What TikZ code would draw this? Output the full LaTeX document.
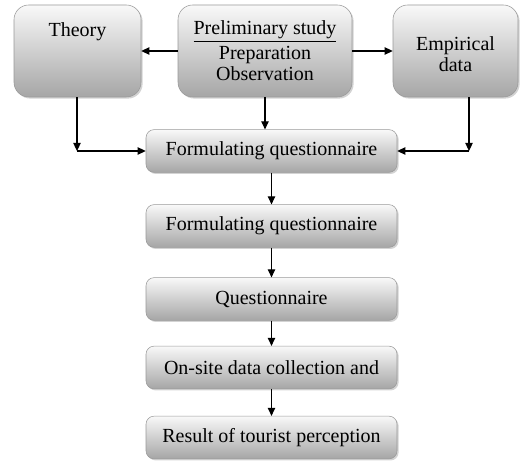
\documentclass[tikz,border=0pt]{standalone}
\usepackage{fontspec}
\setmainfont{Liberation Serif}
\usetikzlibrary{arrows.meta,shadows}

\begin{document}
\begin{tikzpicture}[x=0.75pt, y=-0.75pt, line join=round, thick,
	box/.style={draw=gray!80, thin, rounded corners=6pt, top color=gray!5, bottom color=gray!70,
		drop shadow={shadow xshift=1.2pt, shadow yshift=-1.2pt, opacity=0.35},
		align=center, inner sep=0pt, font=\fontsize{15}{15.75}\selectfont},
	topbox/.style={box, rounded corners=11pt, minimum height=69pt},
	stepbox/.style={box, minimum width=188.25pt, minimum height=32pt},
	arr/.style={-{Triangle[length=6pt,width=5.5pt]}, line width=0.8pt}]
	\useasboundingbox (0,0) rectangle (520,463);

	% ====== HÀNG TRÊN: BA KHỐI ======
	\node[topbox, minimum width=95.25pt] (theory) at (77.5,51) {Theory\\~\\~};
	\node[topbox, minimum width=130.5pt] (prelim) at (265,51) {\underline{Preliminary study}\\[3pt]Preparation\\Observation};
	\node[topbox, minimum width=93.75pt] (empir) at (455.5,51) {~\\Empirical\\data};

	% ====== CỘT GIỮA: CÁC BƯỚC ======
	\node[stepbox] (formA) at (271.5,151) {Formulating questionnaire};
	\node[stepbox] (formB) at (271.5,226) {Formulating questionnaire};
	\node[stepbox] (quest) at (271.5,299) {Questionnaire};
	\node[stepbox] (onsite) at (271.5,367.5) {On-site data collection and};
	\node[stepbox] (result) at (271.5,437.5) {Result of tourist perception};

	% Điểm gấp khúc hai bên
	\coordinate (tcorner) at (77,151);
	\coordinate (ecorner) at (469,151);

	% ====== MŨI TÊN ======
	\draw[arr] (prelim.west) -- (theory.east);
	\draw[arr] (prelim.east) -- (empir.west);
	\draw[arr] (prelim.south) -- (prelim.south |- formA.north);
	\draw[arr] (theory.south -| tcorner) -- (tcorner);
	\draw[arr] (tcorner) -- (formA.west);
	\draw[arr] (empir.south -| ecorner) -- (ecorner);
	\draw[arr] (ecorner) -- (formA.east);
	\draw[arr] (formA) -- (formB);
	\draw[arr] (formB) -- (quest);
	\draw[arr] (quest) -- (onsite);
	\draw[arr] (onsite) -- (result);
\end{tikzpicture}
\end{document}
